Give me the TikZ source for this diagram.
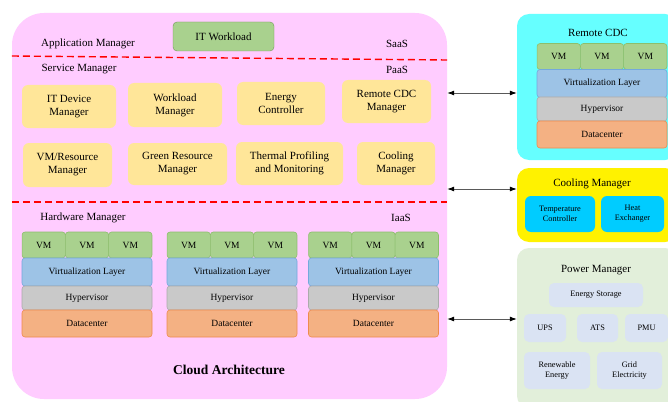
\documentclass[tikz,border=0pt]{standalone}
\usepackage{fontspec}
\setmainfont{Liberation Serif}
\usetikzlibrary{arrows.meta}

\definecolor{cloudpink}{HTML}{FFCCFF}
\definecolor{vmgreen}{HTML}{A9D18E}
\definecolor{vmline}{HTML}{8CBF6C}
\definecolor{virtblue}{HTML}{9DC3E6}
\definecolor{virtline}{HTML}{74A9DC}
\definecolor{hypgrey}{HTML}{C9C9C9}
\definecolor{dcorange}{HTML}{F4B183}
\definecolor{dcline}{HTML}{EE8B4E}
\definecolor{mgryellow}{HTML}{FFE699}
\definecolor{cdccyan}{HTML}{66FFFF}
\definecolor{coolblue}{HTML}{00CCFF}
\definecolor{powergreen}{HTML}{E2EFDA}
\definecolor{powerblue}{HTML}{DAE3F3}

\tikzset{
  txt/.style={inner sep=0pt, font=\fontsize{11}{12.5}\selectfont},
  mgr/.style={rounded corners=6pt, fill=mgryellow, align=center, inner sep=0pt,
    font=\fontsize{11}{13}\selectfont},
  layer/.style={rounded corners=3pt, inner sep=0pt, line width=0.6pt,
    font=\fontsize{9.5}{11}\selectfont},
  vm/.style={layer, draw=vmline, fill=vmgreen, minimum width=43.3pt, minimum height=26pt},
  virt/.style={layer, draw=virtline, fill=virtblue, minimum width=130pt, minimum height=28pt},
  hyp/.style={layer, draw=hypgrey!85!black, fill=hypgrey, minimum width=130pt, minimum height=24pt},
  dc/.style={layer, draw=dcline, fill=dcorange, minimum width=130pt, minimum height=27pt},
  side/.style={rounded corners=12pt, inner sep=0pt},
  small/.style={rounded corners=5pt, inner sep=0pt, align=center,
    font=\fontsize{8.3}{10}\selectfont},
  layerline/.style={red, line width=1.4pt, dash pattern=on 7pt off 4pt},
  link/.style={{Latex[length=7pt,width=5pt,color=black]}-{Latex[length=7pt,width=5pt,color=black]},
    black!65, line width=0.8pt}
}

\begin{document}
\begin{tikzpicture}[x=1pt,y=-1pt]
    \clip (0,0) rectangle (668,401);
    \fill[white] (0,0) rectangle (668,401);

    % cloud architecture
    \node [side, rounded corners=32pt, fill=cloudpink, minimum width=435pt, minimum height=386pt] (cloud) at (229.5,206) {};
    \node [rounded corners=4pt, draw=vmline!80!black, fill=vmgreen, minimum width=101pt, minimum height=29pt, txt] (itwl) at (223.5,36.5) {IT Workload};
    \node [txt] (appmgr) at (88,44) {Application Manager};
    \node [txt] (saas) at (397,44) {SaaS};
    \draw [layerline] (cloud.west |- 0,56) -- (cloud.east |- 0,60);
    \node [txt] (svcmgr) at (79,69) {Service Manager};
    \node [txt] (paas) at (397,70) {PaaS};

    \node [mgr, minimum width=94pt, minimum height=43pt] (itdev) at (69,106.5) {IT Device\\Manager};
    \node [mgr, minimum width=94pt, minimum height=44pt] (wlmgr) at (175,105) {Workload\\Manager};
    \node [mgr, minimum width=88pt, minimum height=43pt] (energy) at (281,103.5) {Energy\\Controller};
    \node [mgr, minimum width=89pt, minimum height=43pt] (rcdcmgr) at (386.5,101.5) {Remote CDC\\Manager};
    \node [mgr, minimum width=89pt, minimum height=44pt] (vmres) at (67.5,165) {VM/Resource\\Manager};
    \node [mgr, minimum width=99pt, minimum height=42pt] (greenres) at (177.5,164) {Green Resource\\Manager};
    \node [mgr, minimum width=107pt, minimum height=43pt] (thermal) at (289.5,163.5) {Thermal Profiling\\and Monitoring};
    \node [mgr, minimum width=78pt, minimum height=43pt] (coolmgr) at (396,163.5) {Cooling\\Manager};

    \draw [layerline] (cloud.west |- 0,202) -- (cloud.east |- 0,202);
    \node [txt] (hwmgr) at (83,218) {Hardware Manager};
    \node [txt] (iaas) at (401,218) {IaaS};

    % hardware stacks
    \node [vm] (vm11) at (43.7,245) {VM};
    \node [vm] (vm12) at (87,245) {VM};
    \node [vm] (vm13) at (130.3,245) {VM};
    \node [virt] (virt1) at (87,272) {Virtualization Layer};
    \node [hyp] (hyp1) at (87,298) {Hypervisor};
    \node [dc] (dc1) at (87,323.5) {Datacenter};

    \node [vm] (vm21) at (188.7,245) {VM};
    \node [vm] (vm22) at (232,245) {VM};
    \node [vm] (vm23) at (275.3,245) {VM};
    \node [virt] (virt2) at (232,272) {Virtualization Layer};
    \node [hyp] (hyp2) at (232,298) {Hypervisor};
    \node [dc] (dc2) at (232,323.5) {Datacenter};

    \node [vm] (vm31) at (330.2,245) {VM};
    \node [vm] (vm32) at (373.5,245) {VM};
    \node [vm] (vm33) at (416.8,245) {VM};
    \node [virt] (virt3) at (373.5,272) {Virtualization Layer};
    \node [hyp] (hyp3) at (373.5,298) {Hypervisor};
    \node [dc] (dc3) at (373.5,323.5) {Datacenter};

    \node [txt, font=\fontsize{13.5}{15}\selectfont\bfseries] (title) at (229,370) {Cloud Architecture};

    % remote cdc
    \node [side, fill=cdccyan, minimum width=160pt, minimum height=146pt] (rcdc) at (597,87) {};
    \node [txt] (rcdctitle) at (598,33) {Remote CDC};
    \node [vm] (vm41) at (558.7,56.5) {VM};
    \node [vm] (vm42) at (602,56.5) {VM};
    \node [vm] (vm43) at (645.3,56.5) {VM};
    \node [virt] (virt4) at (602,83.5) {Virtualization Layer};
    \node [hyp] (hyp4) at (602,109) {Hypervisor};
    \node [dc] (dc4) at (602,134.5) {Datacenter};

    % cooling manager
    \node [side, fill=yellow, minimum width=160pt, minimum height=74pt] (cool) at (597,205) {};
    \node [txt] (cooltitle) at (592,184) {Cooling Manager};
    \node [small, rounded corners=6pt, fill=coolblue, minimum width=70pt, minimum height=36pt] (tempctrl) at (560,214) {Temperature\\Controller};
    \node [small, rounded corners=6pt, fill=coolblue, minimum width=63pt, minimum height=36pt] (heatex) at (632.5,214) {Heat\\Exchanger};

    % power manager
    \node [side, fill=powergreen, minimum width=160pt, minimum height=160pt] (power) at (597,328) {};
    \node [txt] (powertitle) at (596,270) {Power Manager};
    \node [small, fill=powerblue, minimum width=94pt, minimum height=24pt] (storage) at (596,295) {Energy Storage};
    \node [small, fill=powerblue, minimum width=42pt, minimum height=28pt] (ups) at (545,328) {UPS};
    \node [small, fill=powerblue, minimum width=41pt, minimum height=28pt] (ats) at (597.5,328) {ATS};
    \node [small, fill=powerblue, minimum width=43pt, minimum height=28pt] (pmu) at (646.5,328) {PMU};
    \node [small, fill=powerblue, minimum width=66pt, minimum height=37pt] (renew) at (557,370.5) {Renewable\\Energy};
    \node [small, fill=powerblue, minimum width=65pt, minimum height=37pt] (grid) at (629.5,370.5) {Grid\\Electricity};

    % links
    \draw [link] (cloud.east |- 0,93) -- (rcdc.west |- 0,93);
    \draw [link] (cloud.east |- 0,189) -- (cool.west |- 0,189);
    \draw [link] (cloud.east |- 0,319) -- (power.west |- 0,319);
\end{tikzpicture}
\end{document}
